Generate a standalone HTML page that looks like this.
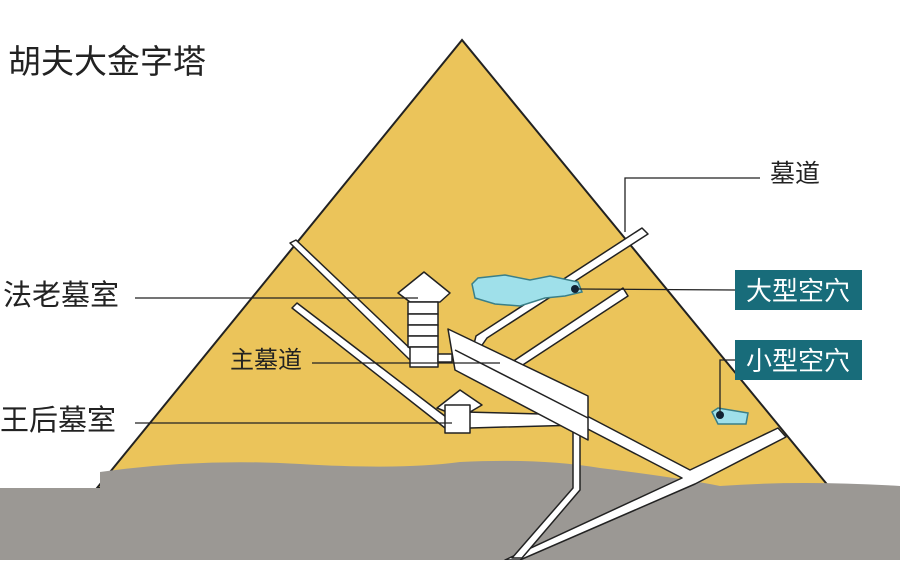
<!DOCTYPE html>
<html><head><meta charset="utf-8"><style>
body{margin:0;width:900px;height:560px;overflow:hidden;background:#fff;}
text{font-family:"Liberation Sans","Noto Sans CJK SC",sans-serif;fill:#222;}
</style></head><body>
<svg width="900" height="560" viewBox="0 0 900 560" xmlns="http://www.w3.org/2000/svg">
<rect width="900" height="560" fill="#fff"/>
<polygon points="462,40 97,488 830,488" fill="#ebc45a" stroke="#222" stroke-width="2"/>
<path d="M0,488 L100,488 L100,472 Q200,458 300,464 Q400,470 460,462 Q540,458 600,468 Q680,478 720,486 Q800,480 900,486 L900,560 L0,560 Z" fill="#9b9894"/>
<g fill="#fff" stroke="#222" stroke-width="1.5" stroke-linejoin="round">
<polygon points="290,243 296,240 418,356 412,362"/>
<polygon points="292,308 297,303 450,420 445,428"/>
<polygon points="642,228 648,234 487,338 480,348 474,344 476,336"/>
<polygon points="623,288 628,296 512,372 506,366"/>
<polygon points="585,415 690,470 778,428 786,437 695,484 520,560 505,560 682,478 580,425"/>
<polygon points="573,428 580,428 580,490 522,558 512,558 573,488"/>
<polygon points="465,412 580,415 580,425 470,428"/>
<polygon points="448,329 588,396 588,440 455,370"/>
<polygon points="398,293 424,272 450,293 440,302 410,302"/>
<rect x="408" y="302" width="30" height="12"/>
<rect x="408" y="314" width="30" height="11"/>
<rect x="408" y="325" width="30" height="11"/>
<rect x="408" y="336" width="30" height="11"/>
<rect x="410" y="347" width="28" height="20"/>
<rect x="438" y="354" width="14" height="8"/>
<polygon points="437,408 460,390 482,405 470,412 447,412"/>
<rect x="445" y="405" width="25" height="28"/>
</g>
<line x1="455" y1="350" x2="588" y2="418" stroke="#222" stroke-width="1.5"/>
<path d="M472,284 L478,278 L505,275 L530,280 L550,276 L578,282 L582,292 L565,296 L545,298 L520,306 L495,304 L475,298 Z" fill="#9fe0ea" stroke="#3a7f88" stroke-width="1.5"/>
<circle cx="575" cy="289" r="4" fill="#123"/>
<path d="M712,412 L718,408 L748,413 L746,424 L718,424 Z" fill="#9fe0ea" stroke="#3a7f88" stroke-width="1.5"/>
<circle cx="720" cy="415" r="4" fill="#123"/>
<g stroke="#222" stroke-width="1.3" fill="none">
<polyline points="760,178 625,178 625,232"/>
<line x1="578" y1="289" x2="735" y2="290"/>
<polyline points="720,412 720,360 735,360"/>
<line x1="135" y1="298" x2="418" y2="298"/>
<line x1="312" y1="363" x2="500" y2="363"/>
<line x1="135" y1="423" x2="452" y2="423"/>
</g>
<rect x="735" y="270" width="127" height="40" fill="#186c7a"/>
<rect x="735" y="340" width="127" height="40" fill="#186c7a"/>
<text x="798" y="300" font-size="26" text-anchor="middle" style="fill:#fff">大型空穴</text>
<text x="798" y="370" font-size="26" text-anchor="middle" style="fill:#fff">小型空穴</text>
<text x="770" y="182" font-size="25">墓道</text>
<text x="8" y="73" font-size="33">胡夫大金字塔</text>
<text x="3" y="305" font-size="29">法老墓室</text>
<text x="230" y="368" font-size="24">主墓道</text>
<text x="0" y="430" font-size="29">王后墓室</text>
</svg>
</body></html>
